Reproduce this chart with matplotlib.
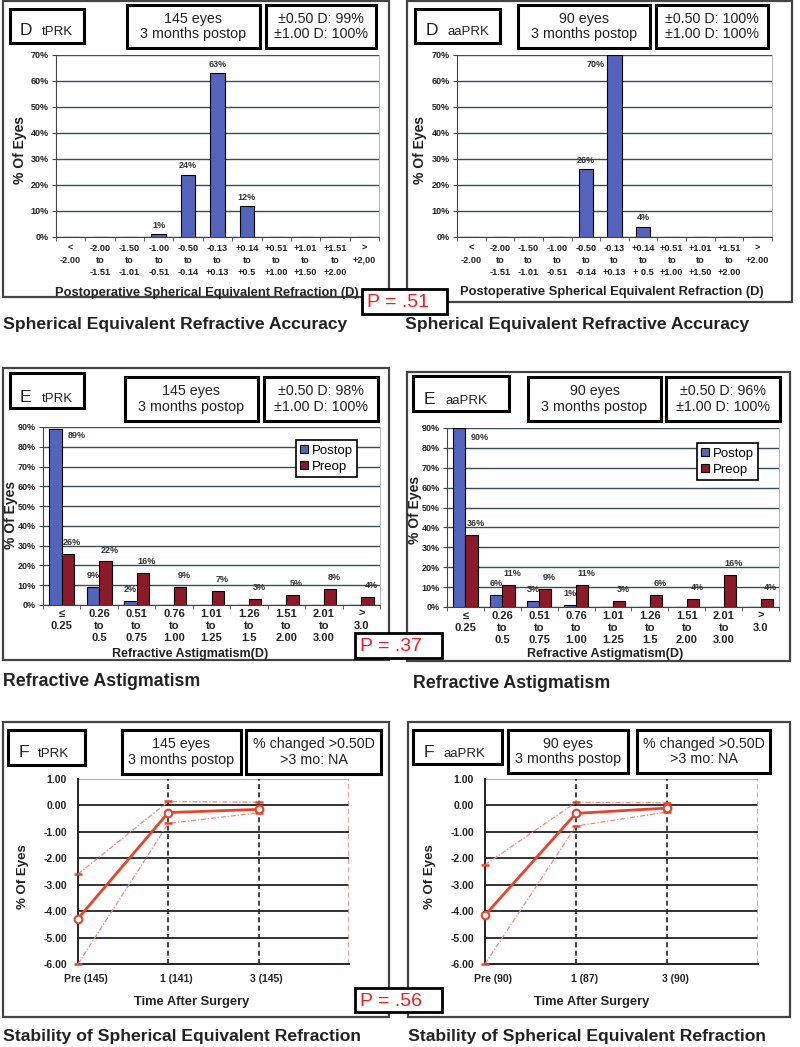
import numpy as np
import matplotlib
matplotlib.use('Agg')
import matplotlib.pyplot as plt
from matplotlib.patches import Rectangle

plt.rcParams['font.family'] = ['Liberation Sans', 'DejaVu Sans']
plt.rcParams['axes.unicode_minus'] = False

W, H = 800, 1047
NARROW = ['Liberation Sans Narrow', 'Liberation Sans', 'DejaVu Sans']
BLUE = '#5464bd'
DRED = '#8c1a28'
RED = '#e8442c'
LRED = '#f0897a'
GRID = '#3a5050'
TXT = '#222222'

# ---------------data--------------- #
se_cats_t = ['<\n-2.00', '-2.00\nto\n-1.51', '-1.50\nto\n-1.01', '-1.00\nto\n-0.51',
             '-0.50\nto\n-0.14', '-0.13\nto\n+0.13', '+0.14\nto\n+0.5', '+0.51\nto\n+1.00',
             '+1.01\nto\n+1.50', '+1.51\nto\n+2.00', '>\n+2,00']
se_cats_a = ['<\n-2.00', '-2.00\nto\n-1.51', '-1.50\nto\n-1.01', '-1.00\nto\n-0.51',
             '-0.50\nto\n-0.14', '-0.13\nto\n+0.13', '+0.14\nto\n+ 0.5', '+0.51\nto\n+1.00',
             '+1.01\nto\n+1.50', '+1.51\nto\n+2.00', '>\n+2.00']
se_tprk = [0, 0, 0, 1, 24, 63, 12, 0, 0, 0, 0]
se_aaprk = [0, 0, 0, 0, 26, 70, 4, 0, 0, 0, 0]

cyl_cats = ['≤\n0.25', '0.26\nto\n0.5', '0.51\nto\n0.75', '0.76\nto\n1.00', '1.01\nto\n1.25',
            '1.26\nto\n1.5', '1.51\nto\n2.00', '2.01\nto\n3.00', '>\n3.0']
cyl_post_t = [89, 9, 2, 0, 0, 0, 0, 0, 0]
cyl_pre_t = [26, 22, 16, 9, 7, 3, 5, 8, 4]
cyl_post_a = [90, 6, 3, 1, 0, 0, 0, 0, 0]
cyl_pre_a = [36, 11, 9, 11, 3, 6, 4, 16, 4]

stab_lab_t = ['Pre (145)', '1 (141)', '3 (145)']
stab_lab_a = ['Pre (90)', '1 (87)', '3 (90)']
stab_mean_t = [-4.28, -0.27, -0.15]
stab_hi_t = [-2.60, 0.15, 0.12]
stab_lo_t = [-6.00, -0.68, -0.28]
stab_mean_a = [-4.15, -0.30, -0.10]
stab_hi_a = [-2.25, 0.12, 0.10]
stab_lo_a = [-6.00, -0.78, -0.25]

eyes_t = '145 eyes\n3 months postop'
eyes_a = '90 eyes\n3 months postop'
acc_se_t = '±0.50 D: 99%\n±1.00 D: 100%'
acc_se_a = '±0.50 D: 100%\n±1.00 D: 100%'
acc_cyl_t = '±0.50 D: 98%\n±1.00 D: 100%'
acc_cyl_a = '±0.50 D: 96%\n±1.00 D: 100%'
changed = '% changed >0.50D\n>3 mo: NA'


def fx(x):
    return x / W


def fy(y):
    return 1 - y / H


def box(fig, x0, y0, x1, y1, lw=2.2, ec='black', z=5):
    fig.add_artist(Rectangle((fx(x0), fy(y1)), (x1 - x0) / W, (y1 - y0) / H,
                             transform=fig.transFigure, facecolor='white',
                             edgecolor=ec, linewidth=lw, zorder=z))


def add_axes(fig, x0, y0, x1, y1):
    return fig.add_axes([fx(x0), fy(y1), (x1 - x0) / W, (y1 - y0) / H])


def header(fig, letter, group, lbox, xl, xg, base, ebox, etext, abox, atext):
    box(fig, *lbox)
    fig.text(fx(xl), fy(base), letter, fontsize=12.5, va='baseline', color=TXT, zorder=6)
    fig.text(fx(xg), fy(base), group, fontsize=9.5, va='baseline', color=TXT, zorder=6)
    for b, t in [(ebox, etext), (abox, atext)]:
        box(fig, *b)
        fig.text(fx((b[0] + b[2]) / 2), fy((b[1] + b[3]) / 2), t, fontsize=10.3,
                 ha='center', va='center', linespacing=1.15, color=TXT, zorder=6)


def p_box(fig, b, text):
    box(fig, *b, lw=2, z=8)
    fig.text(fx(b[0] + 5), fy((b[1] + b[3]) / 2 + 1), text, fontsize=14, color='#ee2026',
             va='center', zorder=9)


def bar_style(ax, ymax, ncat, cats, xfont, xsize, xpad, lsp):
    ax.set_xlim(-0.5, ncat - 0.5)
    ax.set_ylim(0, ymax)
    yt = np.arange(0, ymax + 1, 10)
    ax.set_yticks(yt, labels=['{:d}%'.format(v) for v in yt], fontsize=6.5,
                  fontweight='bold', color=TXT)
    ax.set_xticks(np.arange(ncat), labels=cats, fontsize=xsize, fontweight='bold',
                  family=xfont, linespacing=lsp, color=TXT)
    ax.set_xticks(np.arange(ncat + 1) - 0.5, minor=True)
    ax.tick_params(axis='x', which='major', length=0, pad=xpad)
    ax.tick_params(axis='x', which='minor', length=3, color='#444')
    ax.tick_params(axis='y', length=3, color='#444', pad=2)
    ax.grid(axis='y', color=GRID, lw=1.0)
    ax.set_axisbelow(True)
    ax.spines['top'].set_visible(False)
    ax.spines['right'].set_color('#bbbbbb')
    ax.spines['left'].set_color('#444')
    ax.spines['bottom'].set_color('#444')


def bar_labels(ax, xs, vals, off, special, dx=0):
    for i, (x, v) in enumerate(zip(xs, vals)):
        if v <= 0:
            continue
        if i in special:
            ax.text(special[i][0], special[i][1], '{:d}%'.format(v), fontsize=6.5,
                    fontweight='bold', ha='center', va='center', color='#333', zorder=6)
        else:
            ax.annotate('{:d}%'.format(v), (x, v), xytext=(dx, off), textcoords='offset points',
                        ha='center', va='bottom', fontsize=6.5, fontweight='bold', color='#333',
                        zorder=6)


def se_panel(fig, axbox, cats, vals, special, xlab_xy, ylab_xy):
    ax = add_axes(fig, *axbox)
    idx = np.arange(len(cats))
    ax.bar(idx, vals, width=0.5, color=BLUE, edgecolor='black', lw=0.8, zorder=3)
    bar_style(ax, 70, len(cats), cats, ['Liberation Sans', 'DejaVu Sans'], 6.6, 5, 1.4)
    bar_labels(ax, idx, vals, 3, special)
    ax.set_ylabel('% Of Eyes', fontsize=10, fontweight='bold', va='center', color=TXT)
    ax.yaxis.set_label_coords(fx(ylab_xy[0]), fy(ylab_xy[1]), transform=fig.transFigure)
    ax.set_xlabel('Postoperative Spherical Equivalent Refraction (D)', fontsize=9.3,
                  fontweight='bold', va='center', color=TXT)
    ax.xaxis.set_label_coords(fx(xlab_xy[0]), fy(xlab_xy[1]), transform=fig.transFigure)
    return ax


def cyl_panel(fig, axbox, post, pre, special, legxy, xlab_xy, ylab_xy):
    ax = add_axes(fig, *axbox)
    idx = np.arange(len(cyl_cats))
    w = 0.33
    ax.bar(idx - w / 2, post, width=w, color=BLUE, edgecolor='black', lw=0.8, zorder=3,
           label='Postop')
    ax.bar(idx + w / 2, pre, width=w, color=DRED, edgecolor='black', lw=0.8, zorder=3,
           label='Preop')
    bar_style(ax, 90, len(cyl_cats), cyl_cats, NARROW, 8, 3, 1.25)
    bar_labels(ax, idx - w / 2, post, 5, special)
    bar_labels(ax, idx + w / 2, pre, 5, {}, dx=3)
    leg = ax.legend(loc='upper right', bbox_to_anchor=(fx(legxy[0]), fy(legxy[1])),
                    bbox_transform=fig.transFigure, borderaxespad=0, fancybox=False,
                    edgecolor='black', framealpha=1, handlelength=0.6, handleheight=0.6,
                    handletextpad=0.25, labelspacing=0.3, borderpad=0.35,
                    prop={'family': NARROW, 'size': 9.5})
    leg.get_frame().set_linewidth(1.2)
    ax.set_ylabel('% Of Eyes', fontsize=10, fontweight='bold', va='center', color=TXT)
    ax.yaxis.set_label_coords(fx(ylab_xy[0]), fy(ylab_xy[1]), transform=fig.transFigure)
    ax.set_xlabel('Refractive Astigmatism(D)', fontsize=9, fontweight='bold', va='center',
                  family=NARROW, color=TXT)
    ax.xaxis.set_label_coords(fx(xlab_xy[0]), fy(xlab_xy[1]), transform=fig.transFigure)
    return ax


def stab_panel(fig, axbox, labels, mean, hi, lo, xlab_xy, ylab_xy):
    ax = add_axes(fig, *axbox)
    idx = np.arange(len(labels))
    ax.set_xlim(0, 3)
    ax.set_ylim(-6, 1)
    yt = np.arange(-6, 2)
    ax.set_yticks(yt, labels=['{:.2f}'.format(v) for v in yt], fontsize=7.5,
                  fontweight='bold', color=TXT)
    ax.set_xticks(idx + 0.09, labels=labels, fontsize=7.5, fontweight='bold', color=TXT)
    ax.tick_params(axis='x', length=0, pad=7)
    ax.tick_params(axis='y', length=0, pad=8)
    for v in yt[1:-1]:
        ax.axhline(v, color='#222', lw=1.3, zorder=1)
    ax.axhline(1, color='#9a9a9a', lw=1.2, zorder=1)
    for v in idx[1:]:
        ax.axvline(v, color='#222', lw=1.2, ls=(0, (3, 2)), zorder=1)
    ax.axvline(3, color=LRED, lw=1.2, ls=(0, (3, 2)), zorder=1)
    for s in ['top', 'right']:
        ax.spines[s].set_visible(False)
    ax.spines['left'].set_linewidth(1.4)
    ax.spines['bottom'].set_linewidth(1.4)
    ax.spines['left'].set_color('#222')
    ax.spines['bottom'].set_color('#222')
    for series in (hi, lo):
        ax.plot(idx, series, color=LRED, lw=0.9, ls=(0, (4, 1.5, 1, 1.5)), marker='_',
                ms=6, mew=1.8, mec=RED, clip_on=False, zorder=4)
    ax.plot(idx, mean, color=RED, lw=2, marker='o', ms=5.5, mfc='white', mec=RED, mew=1.5,
            clip_on=False, zorder=5)
    ax.set_ylabel('% Of Eyes', fontsize=9.5, fontweight='bold', va='center', color=TXT)
    ax.yaxis.set_label_coords(fx(ylab_xy[0]), fy(ylab_xy[1]), transform=fig.transFigure)
    ax.set_xlabel('Time After Surgery', fontsize=9.3, fontweight='bold', va='center', color=TXT)
    ax.xaxis.set_label_coords(fx(xlab_xy[0]), fy(xlab_xy[1]), transform=fig.transFigure)
    return ax


fig = plt.figure(figsize=(8, 10.47), dpi=100)
fig.patch.set_facecolor('white')

# ---------------row D--------------- #
box(fig, 3, 1, 389, 297, lw=1.6, ec='#444', z=-1)
box(fig, 407, 1, 792, 302, lw=1.6, ec='#444', z=-1)
header(fig, 'D', 'tPRK', (10, 9, 84, 43), 20, 42, 35, (127, 5, 260, 48), eyes_t,
       (266, 5, 376, 48), acc_se_t)
header(fig, 'D', 'aaPRK', (415, 9, 500, 43), 426, 447, 35, (518, 5, 650, 48), eyes_a,
       (656, 5, 768, 48), acc_se_a)
se_panel(fig, (56, 55, 379, 237), se_cats_t, se_tprk, {}, (207, 293), (20, 150))
se_panel(fig, (457, 55, 772, 237), se_cats_a, se_aaprk, {5: (4.33, 66.5)}, (612, 292), (420, 150))
p_box(fig, (362, 289, 447, 314), 'P = .51')
fig.text(fx(3), fy(325), 'Spherical Equivalent Refractive Accuracy', fontsize=12.6,
         fontweight='bold', va='center', color=TXT)
fig.text(fx(405), fy(325), 'Spherical Equivalent Refractive Accuracy', fontsize=12.6,
         fontweight='bold', va='center', color=TXT)

# ---------------row E--------------- #
box(fig, 3, 368, 389, 660, lw=1.6, ec='#444', z=-1)
box(fig, 407, 372, 790, 661, lw=1.6, ec='#444', z=-1)
header(fig, 'E', 'tPRK', (10, 373, 84, 408), 20, 42, 402, (125, 377, 258, 421), eyes_t,
       (264, 377, 378, 421), acc_cyl_t)
header(fig, 'E', 'aaPRK', (413, 376, 509, 411), 424, 445, 404, (528, 377, 661, 421), eyes_a,
       (666, 377, 780, 421), acc_cyl_a)
cyl_panel(fig, (43, 427, 380, 605), cyl_post_t, cyl_pre_t, {0: (0.4, 85.5)}, (357, 440),
          (190, 654), (11, 515))
cyl_panel(fig, (447, 428, 779, 607), cyl_post_a, cyl_pre_a, {0: (0.4, 85)}, (758, 443),
          (605, 654), (415, 510))
p_box(fig, (355, 633, 442, 658), 'P = .37')
fig.text(fx(3), fy(681), 'Refractive Astigmatism', fontsize=12.8, fontweight='bold',
         va='center', color=TXT)
fig.text(fx(413), fy(683), 'Refractive Astigmatism', fontsize=12.8, fontweight='bold',
         va='center', color=TXT)

# ---------------row F--------------- #
box(fig, 3, 722, 389, 1017, lw=1.6, ec='#444', z=-1)
box(fig, 408, 722, 790, 1017, lw=1.6, ec='#444', z=-1)
header(fig, 'F', 'tPRK', (8, 730, 85, 765), 19, 38, 757, (122, 730, 241, 774), eyes_t,
       (246, 730, 381, 774), changed)
header(fig, 'F', 'aaPRK', (413, 730, 502, 764), 424, 443, 757, (508, 730, 628, 773), eyes_a,
       (637, 730, 770, 773), changed)
stab_panel(fig, (78, 779, 349, 964), stab_lab_t, stab_mean_t, stab_hi_t, stab_lo_t,
           (192, 1002), (23, 877))
stab_panel(fig, (485, 779, 758, 964), stab_lab_a, stab_mean_a, stab_hi_a, stab_lo_a,
           (592, 1002), (430, 877))
p_box(fig, (355, 988, 442, 1012), 'P = .56')
fig.text(fx(3), fy(1036), 'Stability of Spherical Equivalent Refraction', fontsize=12.6,
         fontweight='bold', va='center', color=TXT)
fig.text(fx(408), fy(1037), 'Stability of Spherical Equivalent Refraction', fontsize=12.6,
         fontweight='bold', va='center', color=TXT)

fig.savefig('out.png', dpi=100, facecolor='white')
